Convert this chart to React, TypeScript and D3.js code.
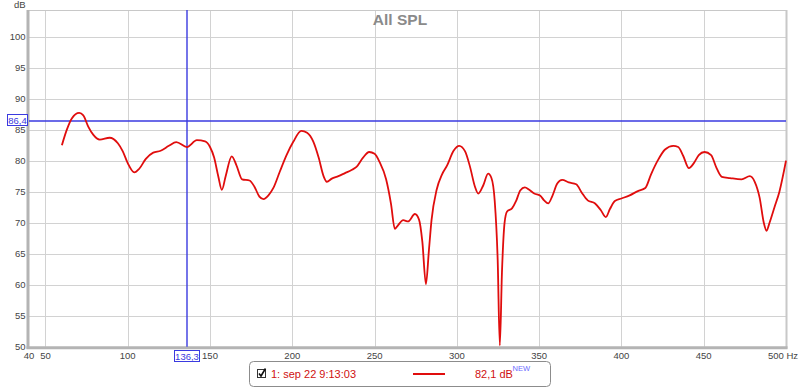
import React from "react";
import * as d3 from "d3";

const freqs = [60,63,66,70.5,73,76,79,83,89,94,97,100,104,107,111,115.5,120,125,129.5,136,142,147,150,152.5,155,157.2,159.5,163.2,166,169.5,174,177,180,182.5,185.5,188.5,192.5,196.5,200.5,205.5,209,212.7,216,219,221,224,228,232,236,239,243,246.7,250,253,257,260,262.3,264,267.4,270.4,274.5,277,279,281.2,283,284.6,287.7,291,294,298,301.4,305,308,311,313,316,319,321,323,324.8,326.1,327.4,329,330.5,333.5,336,338.5,341.3,344,347,350.5,353,355.5,358,361,364,368,372.5,376,379.5,384,387.5,390.5,393,396,400,405,410,414.5,418,422,426.5,431.5,434.5,437.5,441,444,447,450.5,454.5,457.5,461,466,473,478,481,484,486.5,488.2,490,493,496,500];
const spl = [82.5,85.0,86.8,87.7,87.3,85.5,84.2,83.4,83.7,82.8,81.5,79.6,78.1,78.7,80.3,81.3,81.6,82.4,83.0,82.2,83.3,83.1,82.2,80.5,77.5,75.3,77.5,80.7,79.3,77.0,76.8,75.8,74.2,73.8,74.4,75.6,78.3,80.9,83.0,84.8,84.5,83.1,80.5,77.5,76.6,77.1,77.5,78.0,78.5,79.0,80.5,81.4,81.1,79.8,77.0,73.0,69.0,69.5,70.4,70.2,71.4,70.5,67.0,60.1,65.5,70.4,75.3,77.8,79.2,81.6,82.4,81.5,79.0,75.8,74.7,76.0,77.9,77.2,73.5,64.0,50.2,62.0,70.0,71.8,72.3,73.5,75.2,75.7,75.3,74.7,74.4,73.6,73.1,74.3,76.3,76.9,76.5,76.2,74.8,73.6,73.1,72.0,70.9,72.2,73.5,73.9,74.4,75.1,75.6,77.8,80.0,81.8,82.4,82.2,80.8,78.8,79.6,80.9,81.4,80.9,79.0,77.4,77.2,77.0,77.5,76.6,74.0,70.0,68.7,70.0,72.5,75.0,80.0];

const xGrid = [50,100,150,200,250,300,350,400,450,500];
const xTickLabels = ["40","50","100","150","200","250","300","350","400","450"];
const xTickValues = [40,50,100,150,200,250,300,350,400,450];
const yTicks = [50,55,60,65,70,75,80,85,90,95,100];
const cursorFreq = 136.3;
const cursorDb = 86.4;
const title = "All SPL";
const legendName = "1: sep 22 9:13:03";
const legendValue = "82,1 dB";

export default function App() {
  const W = 800, H = 389;
  const L = 29, R = 786, T = 10, B = 346.7;
  const x = d3.scaleLinear().domain([40, 500]).range([L, R]);
  const y = d3.scaleLinear().domain([50, 104.3]).range([B, T]);
  const pts = freqs.map((f, i) => [f, spl[i]] as [number, number]);
  const line = d3.line<[number, number]>().x(d => x(d[0])).y(d => y(d[1])).curve(d3.curveMonotoneX);
  const font = "'Liberation Sans', Arial, sans-serif";
  const cx = x(cursorFreq), cy = y(cursorDb);
  const blue = "#3a3ae0";
  return (
    <div style={{ position: "fixed", left: 0, top: 0, width: W, height: H, background: "#fff" }}>
      <svg width={W} height={H} style={{ display: "block", fontFamily: font }}>
        <rect x={0} y={0} width={W} height={H} fill="#fff" />
        {yTicks.map(t => (
          <line key={"gy" + t} x1={L} x2={R} y1={Math.round(y(t)) + 0.5} y2={Math.round(y(t)) + 0.5} stroke="#d2d2d2" strokeWidth={1} />
        ))}
        {xGrid.map(t => (
          <line key={"gx" + t} x1={Math.round(x(t)) + 0.5} x2={Math.round(x(t)) + 0.5} y1={T} y2={B} stroke="#d2d2d2" strokeWidth={1} />
        ))}
        <line x1={L} x2={R + 1} y1={T + 0.5} y2={T + 0.5} stroke="#c8c8c8" />
        <line x1={R + 0.5} x2={R + 0.5} y1={T} y2={B + 2} stroke="#c8c8c8" strokeWidth={2} />
        <line x1={L - 1} x2={L - 1} y1={T} y2={B + 2} stroke="#b4b4b4" strokeWidth={3} />
        <line x1={L - 2.5} x2={R + 1.5} y1={B + 1} y2={B + 1} stroke="#b4b4b4" strokeWidth={3} />
        <text x={400} y={25} textAnchor="middle" fontSize={15.5} fontWeight="bold" fill="#8a8a8a">{title}</text>
        <text x={25.5} y={8} textAnchor="end" fontSize={9.5} fill="#444">dB</text>
        {yTicks.map(t => (
          <text key={"ty" + t} x={25.5} y={y(t) + 3.5} textAnchor="end" fontSize={9.5} fill="#444">{t}</text>
        ))}
        {xTickValues.map((t, i) => (
          <text key={"tx" + t} x={x(t)} y={359} textAnchor="middle" fontSize={9.5} fill="#444">{xTickLabels[i]}</text>
        ))}
        <text x={798} y={359} textAnchor="end" fontSize={9.5} fill="#444">500 Hz</text>
        <line x1={L} x2={R} y1={Math.round(cy)} y2={Math.round(cy)} stroke={blue} strokeWidth={1.4} />
        <line x1={Math.round(cx)} x2={Math.round(cx)} y1={T} y2={B} stroke={blue} strokeWidth={1.4} />
        <path d={line(pts) || ""} fill="none" stroke="#e00d0d" strokeWidth={1.8} strokeLinejoin="round" />
        <rect x={7.5} y={Math.round(cy) - 6.5} width={20} height={11} fill="#fff" stroke={blue} />
        <text x={17.5} y={Math.round(cy) + 2.5} textAnchor="middle" fontSize={9.5} fill={blue}>{"86,4"}</text>
        <rect x={Math.round(cx) - 12.5} y={350.5} width={25} height={11} fill="#fff" stroke={blue} />
        <text x={Math.round(cx)} y={359.5} textAnchor="middle" fontSize={9.5} fill={blue}>{"136,3"}</text>
        <rect x={249.5} y={361.5} width={301} height={25} rx={4} fill="#fff" stroke="#8c8c8c" />
        <rect x={257.5} y={369.5} width={8} height={8} fill="#fff" stroke="#333" />
        <path d="M259,373.5 L261,376 L265.5,368.5" fill="none" stroke="#111" strokeWidth={1.6} />
        <text x={271} y={378} fontSize={11} fill="#d01010">{legendName}</text>
        <line x1={413} x2={445} y1={374} y2={374} stroke="#e00d0d" strokeWidth={2} />
        <text x={475} y={378} fontSize={11} fill="#d01010">{legendValue}</text>
        <text x={512.5} y={371} fontSize={7.5} fill="#6a6aff">NEW</text>
      </svg>
    </div>
  );
}
